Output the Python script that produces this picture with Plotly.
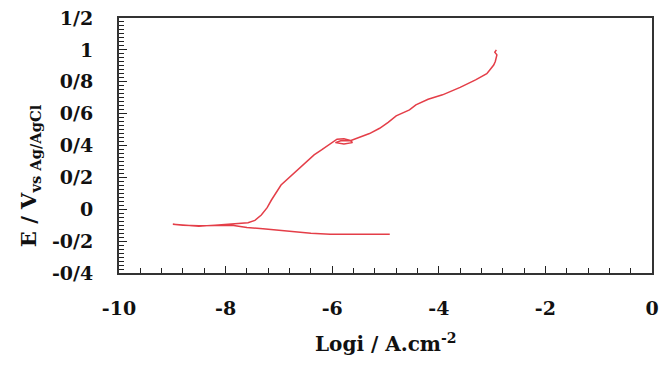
import plotly.graph_objects as go

# Polarization curve (log i vs E)
log_i = [-4.92, -5.50, -6.04, -6.40, -6.70, -6.96, -7.30, -7.60, -7.88, -8.20, -8.50, -8.80, -8.99,
         -8.80, -8.50, -8.20, -7.88, -7.70, -7.58, -7.45, -7.33, -7.22, -7.14, -6.96, -6.80,
         -6.65, -6.50, -6.34, -6.20, -6.09, -5.97, -5.91, -5.78, -5.66, -5.62, -5.78, -5.94,
         -5.84, -5.66, -5.48, -5.30, -5.11, -4.95, -4.80, -4.55, -4.43, -4.20, -3.93, -3.60,
         -3.31, -3.10, -3.04, -2.97, -2.94, -2.91, -2.95, -2.92]
E = [-0.157, -0.157, -0.157, -0.151, -0.140, -0.130, -0.122, -0.115, -0.100, -0.102, -0.104, -0.100, -0.094,
     -0.100, -0.106, -0.100, -0.094, -0.090, -0.084, -0.070, -0.036, 0.010, 0.058, 0.152, 0.200,
     0.246, 0.295, 0.341, 0.372, 0.397, 0.424, 0.440, 0.442, 0.432, 0.418, 0.410, 0.418,
     0.430, 0.430, 0.452, 0.475, 0.508, 0.545, 0.586, 0.623, 0.655, 0.690, 0.718, 0.765,
     0.812, 0.850, 0.875, 0.905, 0.927, 0.969, 0.985, 1.000]

x_tick_vals = [-10, -8, -6, -4, -2, 0]
x_tick_text = ["-10", "-8", "-6", "-4", "-2", "0"]
y_tick_vals = [-0.4, -0.2, 0, 0.2, 0.4, 0.6, 0.8, 1.0, 1.2]
y_tick_text = ["-0/4", "-0/2", "0", "0/2", "0/4", "0/6", "0/8", "1", "1/2"]

FONT = "DejaVu Serif"

fig = go.Figure()
fig.add_trace(go.Scatter(x=log_i, y=E, mode="lines",
                         line=dict(color="rgb(228,62,72)", width=1.5),
                         showlegend=False, hoverinfo="skip"))

fig.update_layout(
    width=665, height=365,
    margin=dict(l=119, r=6, t=18, b=92),
    paper_bgcolor="white", plot_bgcolor="white",
    font=dict(family=FONT, color="#111"),
)
fig.update_xaxes(
    range=[-10, 0], tickvals=x_tick_vals, ticktext=x_tick_text,
    showgrid=False, zeroline=False,
    showline=True, linecolor="#333", linewidth=2, mirror=True,
    ticks="inside", ticklen=7, tickwidth=1, tickcolor="#222",
    tickfont=dict(family=FONT, size=19, weight="bold", color="#111"),
    ticklabelstandoff=17,
    minor=dict(dtick=0.4, ticks="inside", ticklen=5, tickwidth=1, tickcolor="#222", showgrid=False),
)
fig.update_yaxes(
    range=[-0.4, 1.2], tickvals=y_tick_vals, ticktext=y_tick_text,
    showgrid=False, zeroline=False,
    showline=True, linecolor="#333", linewidth=2, mirror=True,
    ticks="inside", ticklen=8, tickwidth=1, tickcolor="#222",
    tickfont=dict(family=FONT, size=19, weight="bold", color="#111"),
    ticklabelstandoff=20,
    minor=dict(dtick=0.025, ticks="inside", ticklen=5, tickwidth=1, tickcolor="#222", showgrid=False),
)

fig.add_annotation(
    text="Logi / A.cm<sup>-2</sup>", xref="paper", yref="paper",
    x=0.5, y=(273 - 343) / 255, xanchor="center", yanchor="middle",
    showarrow=False, font=dict(family=FONT, size=20, weight="bold", color="#111"),
)
fig.add_annotation(
    text="E / V<sub>vs Ag/AgCl</sub>", xref="paper", yref="paper",
    x=(28 - 119) / 540, y=(273 - 176) / 255, xanchor="center", yanchor="middle",
    textangle=-90, showarrow=False,
    font=dict(family=FONT, size=21, weight="bold", color="#111"),
)

fig.write_html("out.html")
